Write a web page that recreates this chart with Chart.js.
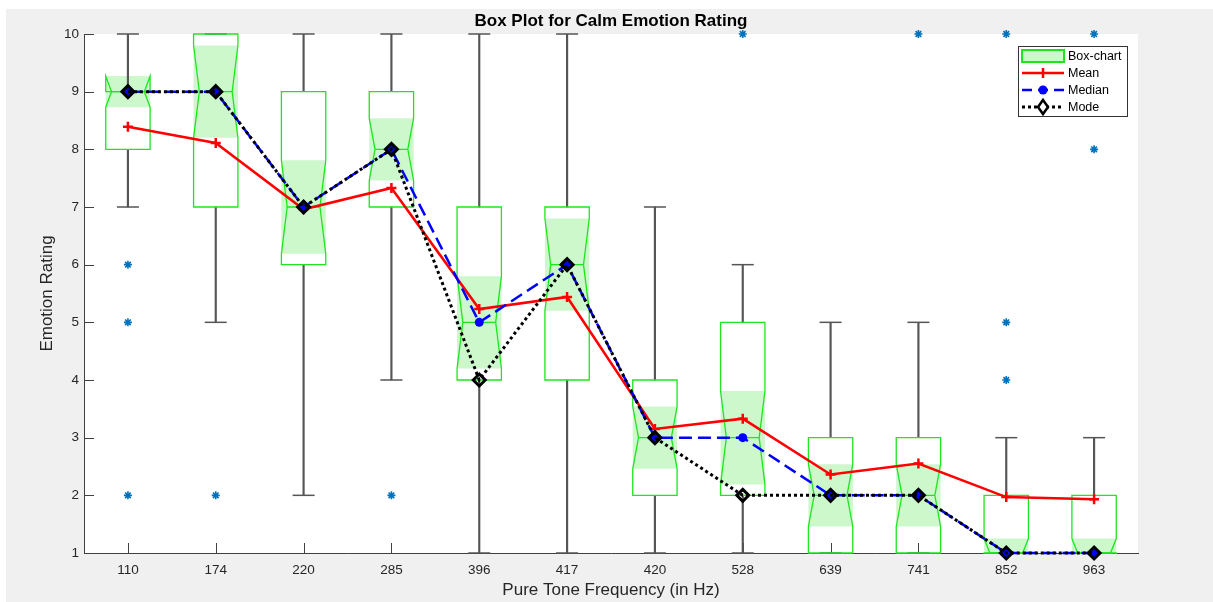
<!DOCTYPE html>
<html>
<head>
<meta charset="utf-8">
<script src="https://cdn.jsdelivr.net/npm/chart.js@4/dist/chart.umd.min.js"></script>
<style>
  html, body { margin: 0; padding: 0; background: #ffffff; }
  #wrap { width: 1213px; height: 602px; }
</style>
</head>
<body>
<div id="wrap"><canvas id="c" width="1213" height="602"></canvas></div>
<script>
// Tone frequencies (Hz) on the category axis
const frequencies = ['110', '174', '220', '285', '396', '417', '420', '528', '639', '741', '852', '963'];

// Box statistics per frequency
const q1        = [8, 7, 6, 7, 4, 4, 2, 2, 1, 1, 1, 1];
const q3        = [9, 10, 9, 9, 7, 7, 4, 5, 3, 3, 2, 2];
const medians   = [9, 9, 7, 8, 5, 6, 3, 3, 2, 2, 1, 1];
const notchLow  = [8.73, 8.2, 6.19, 7.46, 4.2, 5.2, 2.46, 2.19, 1.46, 1.46, 0.75, 0.75];
const notchHigh = [9.27, 9.8, 7.81, 8.54, 5.8, 6.8, 3.54, 3.81, 2.54, 2.54, 1.25, 1.25];
const whiskerLow  = [7, 5, 2, 4, 1, 1, 1, 1, 1, 1, 1, 1];
const whiskerHigh = [10, 10, 10, 10, 10, 10, 7, 6, 5, 5, 3, 3];
const outliers = [[6, 5, 2], [2], [], [2], [], [], [], [10], [], [10], [10, 5, 4], [10, 8]];

// Summary lines
const means = [8.39, 8.11, 6.96, 7.33, 5.23, 5.44, 3.15, 3.33, 2.36, 2.55, 1.97, 1.93];
const modes = [9, 9, 7, 8, 4, 6, 3, 2, 2, 2, 1, 1];

// Y axis range
const yTicks = [1, 2, 3, 4, 5, 6, 7, 8, 9, 10];

const FONT = "'Liberation Sans', Arial, Helvetica, sans-serif";
const AXIS_COLOR = '#404040';
const TEXT_COLOR = '#262626';
const BOX_GREEN = '#1ee61e';
const NOTCH_FILL = '#ccf8cc';
const WHISKER = '#555555';
const OUTLIER_BLUE = '#0072BD';

const outlierPoints = outliers.flatMap((vals, i) => vals.map(v => ({ x: frequencies[i], y: v })));

const IDX_CAP_LOW = 4;

// Figure background, inward tick marks, box outlines and legend
const figurePlugin = {
  id: 'figure',
  beforeDraw(chart) {
    const { ctx, chartArea: a, width, height } = chart;
    ctx.save();
    ctx.fillStyle = '#ffffff';
    ctx.fillRect(0, 0, width, height);
    ctx.fillStyle = '#f0f0f0';
    ctx.fillRect(6, 9, width - 6, height - 9);
    ctx.fillStyle = '#ffffff';
    ctx.fillRect(a.left, a.top, a.right - a.left, a.bottom - a.top);
    ctx.restore();
  },
  beforeDatasetsDraw(chart) {
    const { ctx, chartArea: a, scales: { x, y } } = chart;
    ctx.save();
    ctx.strokeStyle = AXIS_COLOR;
    ctx.lineWidth = 1;
    ctx.beginPath();
    yTicks.forEach(v => {
      const py = Math.round(y.getPixelForValue(v)) + 0.5;
      ctx.moveTo(a.left, py);
      ctx.lineTo(a.left + 10, py);
    });
    frequencies.forEach((f, i) => {
      const px = Math.round(x.getPixelForValue(i)) + 0.5;
      ctx.moveTo(px, a.bottom);
      ctx.lineTo(px, a.bottom - 10);
    });
    ctx.stroke();
    ctx.restore();
  },
  afterDatasetDraw(chart, args) {
    if (args.index !== IDX_CAP_LOW) return;
    const { ctx, chartArea: a, scales: { x, y } } = chart;
    const shade = chart.getDatasetMeta(0);
    ctx.save();
    ctx.beginPath();
    ctx.rect(a.left, a.top - 2, a.right - a.left, a.bottom - a.top + 3);
    ctx.clip();
    ctx.strokeStyle = BOX_GREEN;
    ctx.lineWidth = 1.3;
    ctx.lineJoin = 'miter';
    frequencies.forEach((f, i) => {
      const cx = x.getPixelForValue(i);
      const half = shade.data[i].width / 2;
      const ind = half * 0.26;
      const L = cx - half, R = cx + half;
      const yq1 = y.getPixelForValue(q1[i]);
      const yq3 = y.getPixelForValue(q3[i]);
      const ym = y.getPixelForValue(medians[i]);
      const ylo = y.getPixelForValue(notchLow[i]);
      const yhi = y.getPixelForValue(notchHigh[i]);
      ctx.beginPath();
      ctx.moveTo(L, yq1);
      ctx.lineTo(L, ylo);
      ctx.lineTo(L + ind, ym);
      ctx.lineTo(L, yhi);
      ctx.lineTo(L, yq3);
      ctx.lineTo(R, yq3);
      ctx.lineTo(R, yhi);
      ctx.lineTo(R - ind, ym);
      ctx.lineTo(R, ylo);
      ctx.lineTo(R, yq1);
      ctx.closePath();
      ctx.stroke();
      ctx.beginPath();
      ctx.moveTo(L + ind, ym);
      ctx.lineTo(R - ind, ym);
      ctx.stroke();
    });
    ctx.restore();
  },
  afterDraw(chart) {
    const { ctx, chartArea: a } = chart;
    const w = 109, h = 70;
    const x0 = a.right - 11 - w, y0 = a.top + 12;
    ctx.save();
    ctx.fillStyle = '#ffffff';
    ctx.fillRect(x0, y0, w, h);
    ctx.strokeStyle = '#333333';
    ctx.lineWidth = 1;
    ctx.strokeRect(x0 + 0.5, y0 + 0.5, w, h);

    const sx0 = x0 + 4, sx1 = x0 + 46, sc = x0 + 25;
    const rows = [y0 + 10, y0 + 27, y0 + 44, y0 + 61];

    // Box-chart swatch
    ctx.fillStyle = NOTCH_FILL;
    ctx.fillRect(sx0, rows[0] - 6, sx1 - sx0, 12);
    ctx.strokeStyle = BOX_GREEN;
    ctx.lineWidth = 2;
    ctx.strokeRect(sx0, rows[0] - 6, sx1 - sx0, 12);

    // Mean
    ctx.strokeStyle = '#ff0000';
    ctx.lineWidth = 2.5;
    ctx.beginPath();
    ctx.moveTo(sx0, rows[1]); ctx.lineTo(sx1, rows[1]);
    ctx.moveTo(sc - 5, rows[1]); ctx.lineTo(sc + 5, rows[1]);
    ctx.moveTo(sc, rows[1] - 5); ctx.lineTo(sc, rows[1] + 5);
    ctx.stroke();

    // Median
    ctx.strokeStyle = '#0000ff';
    ctx.setLineDash([10, 6]);
    ctx.beginPath();
    ctx.moveTo(sx0, rows[2]); ctx.lineTo(sx1, rows[2]);
    ctx.stroke();
    ctx.setLineDash([]);
    ctx.fillStyle = '#0000ff';
    ctx.beginPath();
    ctx.arc(sc, rows[2], 4.5, 0, Math.PI * 2);
    ctx.fill();

    // Mode
    ctx.strokeStyle = '#000000';
    ctx.lineWidth = 3;
    ctx.setLineDash([3, 3]);
    ctx.beginPath();
    ctx.moveTo(sx0, rows[3]); ctx.lineTo(sx1, rows[3]);
    ctx.stroke();
    ctx.setLineDash([]);
    ctx.fillStyle = '#ffffff';
    ctx.lineWidth = 2.5;
    ctx.beginPath();
    ctx.moveTo(sc, rows[3] - 7);
    ctx.lineTo(sc + 5, rows[3]);
    ctx.lineTo(sc, rows[3] + 7);
    ctx.lineTo(sc - 5, rows[3]);
    ctx.closePath();
    ctx.fill();
    ctx.stroke();

    ctx.fillStyle = '#000000';
    ctx.font = '12.5px ' + FONT;
    ctx.textBaseline = 'middle';
    ctx.textAlign = 'left';
    ['Box-chart', 'Mean', 'Median', 'Mode'].forEach((t, k) => ctx.fillText(t, x0 + 50, rows[k] + 0.5));
    ctx.restore();
  }
};

const ctx = document.getElementById('c').getContext('2d');
new Chart(ctx, {
  type: 'bar',
  data: {
    labels: frequencies,
    datasets: [
      {
        label: 'Box-chart',
        data: notchLow.map((lo, i) => [lo, notchHigh[i]]),
        backgroundColor: NOTCH_FILL,
        borderWidth: 0,
        categoryPercentage: 1,
        barPercentage: 0.505,
        grouped: false,
        clip: 0,
        order: 10
      },
      {
        label: 'upper whisker',
        data: q3.map((v, i) => [v, whiskerHigh[i]]),
        backgroundColor: WHISKER,
        borderWidth: 0,
        barThickness: 1.5,
        grouped: false,
        order: 9
      },
      {
        label: 'lower whisker',
        data: q1.map((v, i) => [whiskerLow[i], v]),
        backgroundColor: WHISKER,
        borderWidth: 0,
        barThickness: 1.5,
        grouped: false,
        order: 8
      },
      {
        type: 'line',
        label: 'upper cap',
        data: whiskerHigh,
        showLine: false,
        pointStyle: 'line',
        pointRadius: 11,
        pointBorderWidth: 1.5,
        pointBorderColor: WHISKER,
        clip: false,
        order: 7
      },
      {
        type: 'line',
        label: 'lower cap',
        data: whiskerLow,
        showLine: false,
        pointStyle: 'line',
        pointRadius: 11,
        pointBorderWidth: 1.5,
        pointBorderColor: WHISKER,
        clip: false,
        order: 6
      },
      {
        type: 'line',
        label: 'Outliers',
        data: outlierPoints,
        showLine: false,
        pointStyle: 'star',
        pointRadius: 4,
        pointBorderWidth: 1.6,
        pointBorderColor: OUTLIER_BLUE,
        pointBackgroundColor: OUTLIER_BLUE,
        clip: false,
        order: 5
      },
      {
        type: 'line',
        label: 'Mean',
        data: means,
        borderColor: '#ff0000',
        borderWidth: 2.5,
        pointStyle: 'cross',
        pointRadius: 5,
        pointBorderWidth: 2.5,
        pointBorderColor: '#ff0000',
        tension: 0,
        clip: false,
        order: 3
      },
      {
        type: 'line',
        label: 'Median',
        data: medians,
        borderColor: '#0000ff',
        borderWidth: 2.5,
        borderDash: [13, 6],
        pointStyle: 'circle',
        pointRadius: 4.5,
        pointBorderWidth: 0,
        pointBackgroundColor: '#0000ff',
        tension: 0,
        clip: false,
        order: 2
      },
      {
        type: 'line',
        label: 'Mode',
        data: modes,
        borderColor: '#000000',
        borderWidth: 3,
        borderDash: [3, 3],
        borderCapStyle: 'butt',
        pointStyle: 'rectRot',
        pointRadius: 6,
        pointBorderWidth: 3,
        pointBorderColor: '#000000',
        pointBackgroundColor: 'rgba(0,0,0,0)',
        tension: 0,
        clip: false,
        order: 1
      }
    ]
  },
  options: {
    responsive: false,
    animation: false,
    events: [],
    layout: { padding: { left: 0, right: 75, top: 0, bottom: 0 } },
    plugins: {
      legend: { display: false },
      tooltip: { enabled: false },
      title: {
        display: true,
        fullSize: false,
        text: 'Box Plot for Calm Emotion Rating',
        color: '#000000',
        font: { family: FONT, size: 17, weight: 'bold' },
        padding: { top: 10.8, bottom: 2.8 }
      }
    },
    scales: {
      x: {
        type: 'category',
        offset: true,
        grid: { display: false, drawTicks: false },
        border: { display: true, color: AXIS_COLOR, width: 1 },
        ticks: { color: TEXT_COLOR, font: { family: FONT, size: 13.5 }, padding: 9, maxRotation: 0 },
        title: {
          display: true,
          text: 'Pure Tone Frequency (in Hz)',
          color: TEXT_COLOR,
          font: { family: FONT, size: 17 },
          padding: { top: 0, bottom: 1 }
        },
        afterFit(scale) { scale.height = 49; }
      },
      y: {
        min: 1,
        max: 10,
        grid: { display: false, drawTicks: false },
        border: { display: true, color: AXIS_COLOR, width: 1 },
        ticks: { stepSize: 1, color: TEXT_COLOR, font: { family: FONT, size: 13.5 }, padding: 5 },
        title: {
          display: true,
          text: 'Emotion Rating',
          color: TEXT_COLOR,
          font: { family: FONT, size: 17 },
          padding: { top: 36.8, bottom: 0 }
        },
        afterFit(scale) { scale.width = 84; }
      }
    }
  },
  plugins: [figurePlugin]
});
</script>
</body>
</html>
